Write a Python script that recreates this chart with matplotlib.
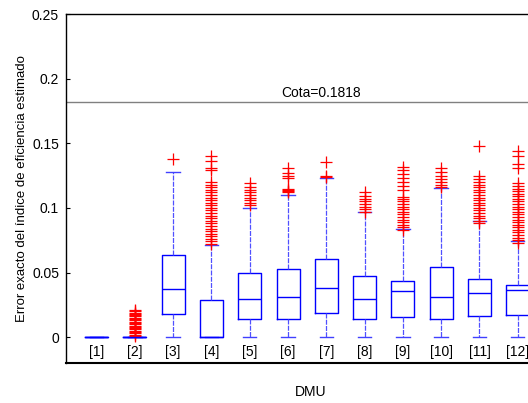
import matplotlib
matplotlib.use("Agg")
import matplotlib.pyplot as plt

plt.rcParams['font.family'] = ['Liberation Sans', 'DejaVu Sans']

labels = ['[1]', '[2]', '[3]', '[4]', '[5]', '[6]', '[7]', '[8]', '[9]', '[10]', '[11]', '[12]']
whislo = [0, 0, 0, 0, 0, 0, 0, 0, 0, 0, 0, 0]
q1 = [0, 0, 0.0178, 0, 0.0144, 0.0144, 0.0188, 0.0137, 0.0157, 0.0137, 0.0160, 0.0170]
med = [0, 0, 0.0369, 0, 0.0294, 0.0310, 0.0377, 0.0294, 0.0354, 0.0310, 0.0338, 0.0361]
q3 = [0, 0, 0.0632, 0.0286, 0.0493, 0.0531, 0.0601, 0.0475, 0.0433, 0.0542, 0.0452, 0.0400]
whishi = [0, 0, 0.1277, 0.0712, 0.1000, 0.1100, 0.1228, 0.0965, 0.0836, 0.1156, 0.0895, 0.0743]

fliers = [
    [],
    [0.001, 0.002, 0.003, 0.004, 0.005, 0.006, 0.007, 0.008, 0.009, 0.010, 0.011,
     0.012, 0.013, 0.014, 0.015, 0.016, 0.017, 0.018, 0.019, 0.020, 0.021],
    [0.1375],
    [0.072, 0.074, 0.076, 0.078, 0.080, 0.082, 0.084, 0.086, 0.088, 0.090, 0.092,
     0.094, 0.096, 0.098, 0.100, 0.102, 0.104, 0.106, 0.108, 0.110, 0.112, 0.114,
     0.116, 0.118, 0.120, 0.129, 0.131, 0.136, 0.140],
    [0.102, 0.104, 0.106, 0.108, 0.110, 0.112, 0.114, 0.116, 0.119],
    [0.112, 0.113, 0.114, 0.115, 0.123, 0.125, 0.127, 0.131],
    [0.124, 0.125, 0.1355],
    [0.097, 0.099, 0.101, 0.103, 0.105, 0.107, 0.109, 0.112],
    [0.083, 0.085, 0.087, 0.089, 0.091, 0.093, 0.095, 0.097, 0.099, 0.101, 0.103,
     0.105, 0.107, 0.1086, 0.114, 0.117, 0.120, 0.123, 0.126, 0.129, 0.132],
    [0.1163, 0.118, 0.120, 0.122, 0.125, 0.128, 0.1305],
    [0.088, 0.090, 0.092, 0.094, 0.096, 0.098, 0.100, 0.102, 0.104, 0.106, 0.108,
     0.110, 0.112, 0.114, 0.116, 0.118, 0.120, 0.122, 0.125, 0.148],
    [0.0725, 0.075, 0.077, 0.079, 0.081, 0.083, 0.085, 0.087, 0.089, 0.091, 0.093,
     0.095, 0.097, 0.099, 0.101, 0.103, 0.105, 0.107, 0.109, 0.111, 0.113, 0.115,
     0.117, 0.119, 0.1305, 0.134, 0.140, 0.144],
]

cota = 0.1818
cota_label = 'Cota=0.1818'

fig = plt.figure(figsize=(5.28, 4.03), dpi=100)
ax = fig.add_axes([66 / 528, 40 / 403, 490 / 528, 349 / 403])

stats = []
for i in range(len(labels)):
    stats.append(dict(med=med[i], q1=q1[i], q3=q3[i], whislo=whislo[i],
                      whishi=whishi[i], fliers=fliers[i]))

blue = '#0000ff'
ax.bxp(stats, positions=range(1, len(labels) + 1), widths=0.6,
       boxprops=dict(color=blue, linewidth=1.0),
       medianprops=dict(color=blue, linewidth=1.0),
       whiskerprops=dict(color='#5050ff', linewidth=0.9, linestyle=(0, (4, 1))),
       capprops=dict(color='#4040ff', linewidth=1.0),
       capwidths=0.35,
       flierprops=dict(marker='+', markeredgecolor='red', markersize=8,
                       markeredgewidth=0.9, linestyle='none'),
       manage_ticks=False)

ax.axhline(cota, color='#808080', linewidth=1.0)
ax.text(6.85, cota + 0.0015, cota_label, ha='center', va='bottom', fontsize=10)

for i, lab in enumerate(labels):
    ax.text(i + 1, -0.0116, lab, ha='center', va='center', fontsize=10)

ax.set_xlim(0.2, 13.0)
ax.set_ylim(-0.02, 0.25)
ax.set_xticks([])
ax.set_yticks([0, 0.05, 0.1, 0.15, 0.2, 0.25])
ax.set_yticklabels(['0', '0.05', '0.1', '0.15', '0.2', '0.25'])
ax.tick_params(axis='y', direction='in', length=3, labelsize=10, pad=5)
ax.spines['right'].set_visible(False)
for s in ['left', 'top', 'bottom']:
    ax.spines[s].set_linewidth(1.0)
ax.spines['bottom'].set_linewidth(1.5)

ax.set_ylabel('Error exacto del índice de eficiencia estimado', fontsize=9.5, labelpad=3)
ax.set_xlabel('DMU', fontsize=10, labelpad=16)

fig.savefig('out.png', dpi=100)
